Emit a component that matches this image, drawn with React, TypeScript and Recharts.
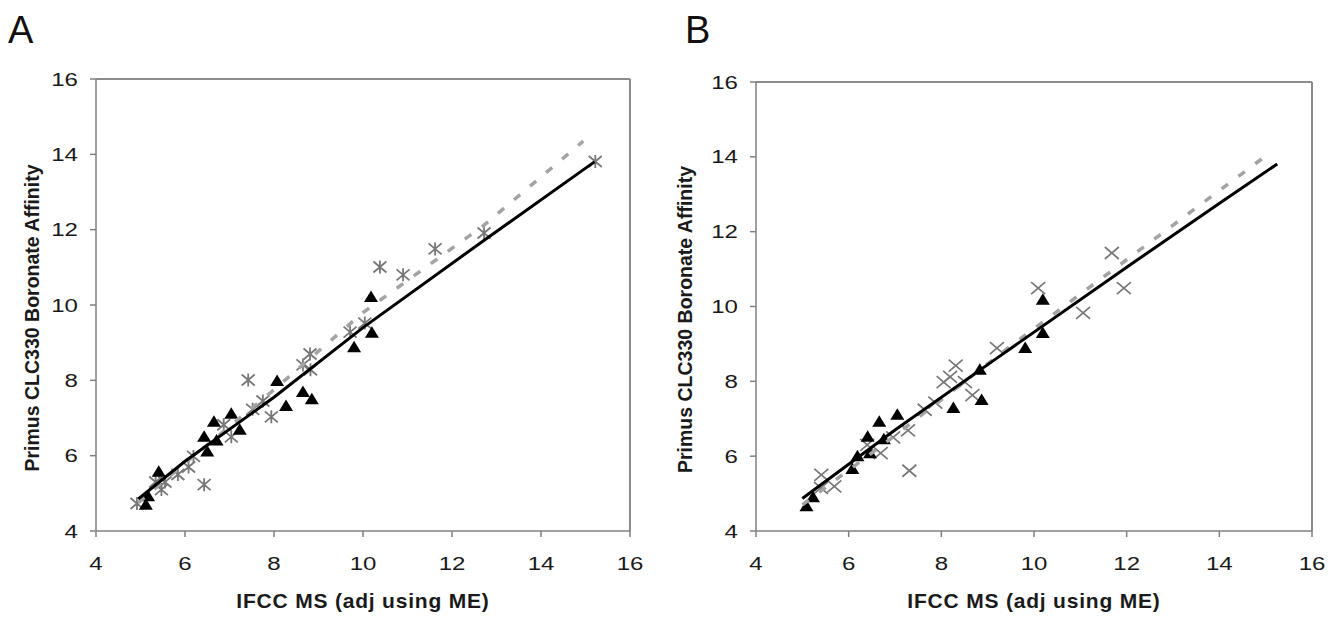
import { ScatterChart, Scatter, XAxis, YAxis, ReferenceLine } from 'recharts'

const ticks = [4, 6, 8, 10, 12, 14, 16]
const xTitle = 'IFCC MS (adj using ME)'
const yTitle = 'Primus CLC330 Boronate Affinity'

// panel A
const aStarX = [4.92, 5.34, 5.47, 5.55, 5.84, 6.08, 6.19, 6.43, 6.87, 7.04, 7.42, 7.52, 7.75, 7.94, 8.65, 8.81, 8.82, 9.71, 10.04, 10.38, 10.9, 11.62, 12.72, 15.22]
const aStarY = [4.73, 5.3, 5.1, 5.3, 5.5, 5.7, 5.98, 5.23, 6.82, 6.5, 8.01, 7.23, 7.45, 7.03, 8.41, 8.7, 8.28, 9.28, 9.52, 11.01, 10.8, 11.49, 11.91, 13.81]
const aTriX = [5.12, 5.17, 5.41, 6.43, 6.5, 6.65, 6.71, 7.04, 7.23, 8.07, 8.27, 8.65, 8.85, 9.8, 10.18, 10.2]
const aTriY = [4.7, 4.92, 5.57, 6.5, 6.11, 6.9, 6.4, 7.11, 6.69, 7.98, 7.32, 7.69, 7.5, 8.88, 10.21, 9.26]
const aFitX = [4.95, 6, 8, 10, 12.7, 15.2]
const aFitY = [4.85, 5.85, 7.55, 9.4, 11.7, 13.8]
const aDashX = [4.95, 6, 8, 10, 12.7, 14.95]
const aDashY = [4.75, 5.8, 7.75, 9.8, 12.1, 14.35]

// panel B
const bCrossX = [5.41, 5.4, 5.69, 6.4, 6.69, 6.96, 7.28, 7.31, 7.64, 7.87, 8.05, 8.19, 8.31, 8.51, 8.67, 9.2, 10.09, 11.06, 11.68, 11.94]
const bCrossY = [5.5, 5.15, 5.19, 6.3, 6.08, 6.5, 6.69, 5.61, 7.24, 7.43, 7.98, 8.12, 8.42, 7.98, 7.63, 8.89, 10.49, 9.83, 11.43, 10.49]
const bTriX = [5.09, 5.23, 6.08, 6.19, 6.41, 6.46, 6.66, 6.76, 7.05, 8.26, 8.83, 8.87, 9.81, 10.19, 10.19]
const bTriY = [4.66, 4.9, 5.66, 6.0, 6.52, 6.08, 6.92, 6.45, 7.11, 7.29, 8.31, 7.5, 8.89, 10.18, 9.29]
const bFitX = [5.0, 7, 9.2, 12.07, 14.02, 15.25]
const bFitY = [4.87, 6.7, 8.62, 11.11, 12.77, 13.81]
const bDashX = [5.0, 7, 9.5, 12, 15.03]
const bDashY = [4.7, 6.55, 8.95, 11.25, 14.05]

const pts = (xs: number[], ys: number[]) => xs.map((x, i) => ({ x, y: ys[i] }))

const Triangle = (p: any) => (
  <path d={`M${p.cx},${p.cy - 6.5} L${p.cx + 7},${p.cy + 5} L${p.cx - 7},${p.cy + 5} Z`} fill="#000" />
)

const Cross = (p: any) => (
  <path
    d={`M${p.cx - 7},${p.cy - 6} L${p.cx + 7},${p.cy + 6} M${p.cx - 7},${p.cy + 6} L${p.cx + 7},${p.cy - 6}`}
    stroke="#777"
    strokeWidth={1.7}
    fill="none"
  />
)

const Star = (p: any) => (
  <path
    d={`M${p.cx - 6.5},${p.cy - 5.5} L${p.cx + 6.5},${p.cy + 5.5} M${p.cx - 6.5},${p.cy + 5.5} L${p.cx + 6.5},${p.cy - 5.5} M${p.cx},${p.cy - 6.5} L${p.cx},${p.cy + 6.5}`}
    stroke="#777"
    strokeWidth={1.8}
    fill="none"
  />
)

const noDot = () => <g />

// the source figure is stretched sideways, so the tick text is too
const XTick = ({ x, y, payload }: any) => (
  <text transform={`translate(${x},${y}) scale(1.3,1)`} textAnchor="middle" dy="0.71em" fontSize={18.5} fill="#1a1a1a">
    {payload.value}
  </text>
)

const YTick = ({ x, y, payload }: any) => (
  <text transform={`translate(${x},${y}) scale(1.3,1)`} textAnchor="end" dy="0.355em" fontSize={18.5} fill="#1a1a1a">
    {payload.value}
  </text>
)

type PanelProps = {
  left: number
  top: number
  right: number
  titleOffset: number
  open: { x: number; y: number }[]
  openShape: (p: any) => JSX.Element
  tri: { x: number; y: number }[]
  fit: { x: number; y: number }[]
  dash: { x: number; y: number }[]
}

function Panel({ left, top, right, titleOffset, open, openShape, tri, fit, dash }: PanelProps) {
  return (
    <ScatterChart width={664} height={617} margin={{ top, right, bottom: 46, left }}>
      <XAxis
        type="number"
        dataKey="x"
        domain={[4, 16]}
        ticks={ticks}
        height={40}
        tickSize={6}
        tickMargin={20}
        axisLine={{ stroke: '#808080', strokeWidth: 1.5 }}
        tickLine={{ stroke: '#808080', strokeWidth: 1.5 }}
        tick={XTick}
        label={{ value: xTitle, position: 'bottom', offset: 22, fontSize: 21, fontWeight: 'bold', fill: '#1a1a1a', letterSpacing: 0.8 }}
      />
      <YAxis
        type="number"
        dataKey="y"
        domain={[4, 16]}
        ticks={ticks}
        width={60}
        tickSize={6}
        tickMargin={12}
        axisLine={{ stroke: '#808080', strokeWidth: 1.5 }}
        tickLine={{ stroke: '#808080', strokeWidth: 1.5 }}
        tick={YTick}
        label={{
          value: yTitle,
          angle: -90,
          position: 'left',
          offset: titleOffset,
          dy: 13,
          fontSize: 19.5,
          fontWeight: 'bold',
          fill: '#1a1a1a',
          style: { textAnchor: 'middle' },
        }}
      />
      <ReferenceLine y={16} stroke="#8c8c8c" strokeWidth={2} />
      <ReferenceLine x={16} stroke="#8c8c8c" strokeWidth={2} />
      <Scatter data={open} shape={openShape} isAnimationActive={false} />
      <Scatter data={tri} shape={Triangle} isAnimationActive={false} />
      <Scatter
        data={dash}
        shape={noDot}
        line={{ stroke: '#a3a3a3', strokeWidth: 3.5, strokeDasharray: '8 13' }}
        isAnimationActive={false}
      />
      <Scatter data={fit} shape={noDot} line={{ stroke: '#000', strokeWidth: 3 }} isAnimationActive={false} />
    </ScatterChart>
  )
}

const panelLetter = { position: 'absolute' as const, top: 11, fontSize: 38, lineHeight: 1, color: '#111' }

export default function App() {
  return (
    <div
      style={{
        position: 'absolute',
        left: 0,
        top: 0,
        width: 1328,
        height: 617,
        background: '#fff',
        fontFamily: '"Liberation Sans", Arial, sans-serif',
      }}
    >
      <div style={{ ...panelLetter, left: 8 }}>A</div>
      <div style={{ ...panelLetter, left: 685 }}>B</div>
      <div style={{ position: 'absolute', left: 0, top: 0 }}>
        <Panel
          left={36}
          top={79}
          right={34}
          titleOffset={4}
          open={pts(aStarX, aStarY)}
          openShape={Star}
          tri={pts(aTriX, aTriY)}
          fit={pts(aFitX, aFitY)}
          dash={pts(aDashX, aDashY)}
        />
      </div>
      <div style={{ position: 'absolute', left: 664, top: 0 }}>
        <Panel
          left={32}
          top={82}
          right={16}
          titleOffset={11}
          open={pts(bCrossX, bCrossY)}
          openShape={Cross}
          tri={pts(bTriX, bTriY)}
          fit={pts(bFitX, bFitY)}
          dash={pts(bDashX, bDashY)}
        />
      </div>
    </div>
  )
}
